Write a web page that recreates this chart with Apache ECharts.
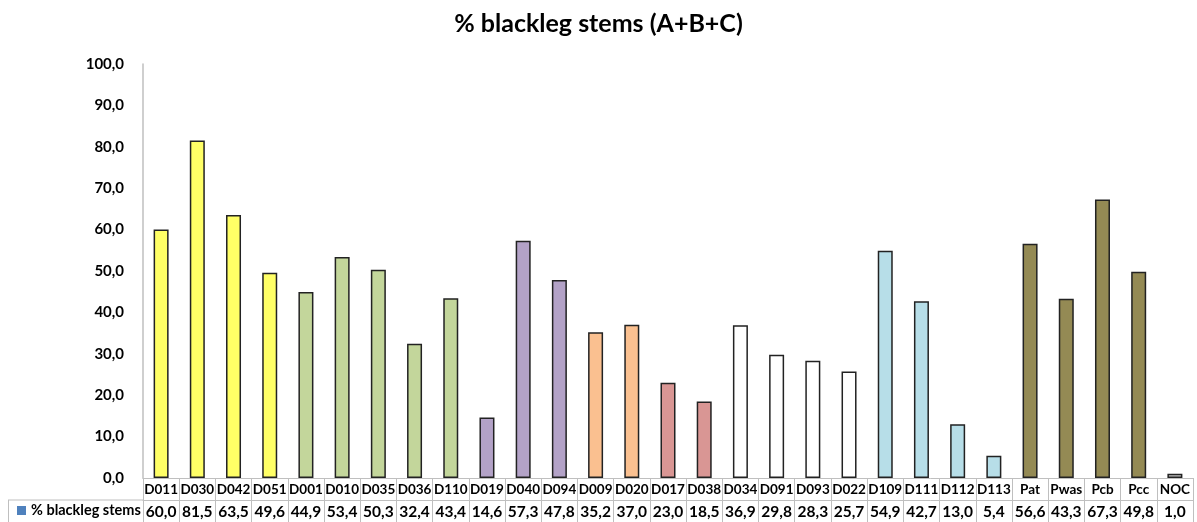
<!DOCTYPE html>
<html>
<head>
<meta charset="utf-8">
<script src="https://cdn.jsdelivr.net/npm/echarts@6/dist/echarts.min.js"></script>
<style>
  html, body { margin: 0; padding: 0; background: #fff; }
  #chart { width: 1197px; height: 522px; }
</style>
</head>
<body>
<div id="chart"></div>
<script>
// Isolates and their % of blackleg stems
const categories = ['D011','D030','D042','D051','D001','D010','D035','D036','D110','D019','D040','D094','D009','D020','D017','D038','D034','D091','D093','D022','D109','D111','D112','D113','Pat','Pwas','Pcb','Pcc','NOC'];
const values = [60.0,81.5,63.5,49.6,44.9,53.4,50.3,32.4,43.4,14.6,57.3,47.8,35.2,37.0,23.0,18.5,36.9,29.8,28.3,25.7,54.9,42.7,13.0,5.4,56.6,43.3,67.3,49.8,1.0];
// Group each isolate belongs to
const groups = ['g1','g1','g1','g1','g2','g2','g2','g2','g2','g3','g3','g3','g4','g4','g5','g5','g6','g6','g6','g6','g7','g7','g7','g7','g8','g8','g8','g8','g9'];
const seriesName = '% blackleg stems';
const yTicks = [0,10,20,30,40,50,60,70,80,90,100];

const palette = {
  g1: '#FFFF66', g2: '#C3D69B', g3: '#B3A2C7', g4: '#FAC090', g5: '#D99694',
  g6: '#FFFFFF', g7: '#B7DEE8', g8: '#948A54', g9: '#C0C0C0'
};
const fmt = v => v.toFixed(1).replace('.', ',');
const font = 'Lato, "Open Sans", sans-serif';
const gridColor = '#BFBFBF';

const chart = echarts.init(document.getElementById('chart'));
const gridLeft = 143, gridBottom = 44, rowH = 22;

chart.setOption({
  animation: false,
  title: {
    text: '% blackleg stems (A+B+C)',
    left: 'center', top: 6,
    textStyle: { fontFamily: font, fontWeight: 'bold', fontSize: 25, color: '#000' }
  },
  legend: {
    data: [seriesName],
    left: 12, top: 522 - rowH + 1, padding: [2, 5],
    icon: 'rect', itemWidth: 9, itemHeight: 9, itemGap: 5,
    textStyle: { fontFamily: font, fontWeight: 'bold', fontSize: 14.5, color: '#000' },
    selectedMode: false
  },
  grid: { left: gridLeft, right: 4, top: 64, bottom: gridBottom, containLabel: false },
  xAxis: [
    {
      type: 'category', data: categories, position: 'bottom',
      axisLine: { show: true, lineStyle: { color: gridColor, width: 1 } },
      axisTick: { show: true, interval: 0, length: 2 * rowH, lineStyle: { color: gridColor } },
      axisLabel: { interval: 0, margin: 5, fontFamily: font, fontWeight: 'bold', fontSize: 13.5, color: '#000' }
    },
    {
      type: 'category', data: categories, position: 'bottom', offset: rowH,
      axisLine: { show: true, lineStyle: { color: gridColor, width: 1 } },
      axisTick: { show: false },
      axisLabel: {
        interval: 0, margin: 4, fontFamily: font, fontWeight: 'bold', fontSize: 15.5, color: '#000',
        formatter: (v, i) => fmt(values[i])
      }
    }
  ],
  yAxis: {
    type: 'value', min: yTicks[0], max: yTicks[yTicks.length - 1], interval: yTicks[1] - yTicks[0],
    axisLine: { show: true, lineStyle: { color: gridColor, width: 1.5 } },
    axisTick: { show: false },
    splitLine: { show: false },
    axisLabel: { margin: 19, fontFamily: font, fontWeight: 'bold', fontSize: 15, color: '#000', formatter: fmt }
  },
  series: [{
    name: seriesName,
    type: 'bar',
    xAxisIndex: 0,
    barWidth: 15,
    itemStyle: { color: '#4F81BD' },
    data: values.map((v, i) => ({
      value: v,
      itemStyle: { color: palette[groups[i]], borderColor: '#222', borderWidth: 1.5 }
    }))
  }],
  graphic: [
    // Border of the header cell of the data table
    { type: 'line', shape: { x1: 8, y1: 522 - rowH, x2: gridLeft, y2: 522 - rowH }, style: { stroke: gridColor, lineWidth: 1 } },
    { type: 'line', shape: { x1: 8.5, y1: 522 - rowH, x2: 8.5, y2: 522 }, style: { stroke: gridColor, lineWidth: 1 } }
  ]
});
</script>
</body>
</html>
